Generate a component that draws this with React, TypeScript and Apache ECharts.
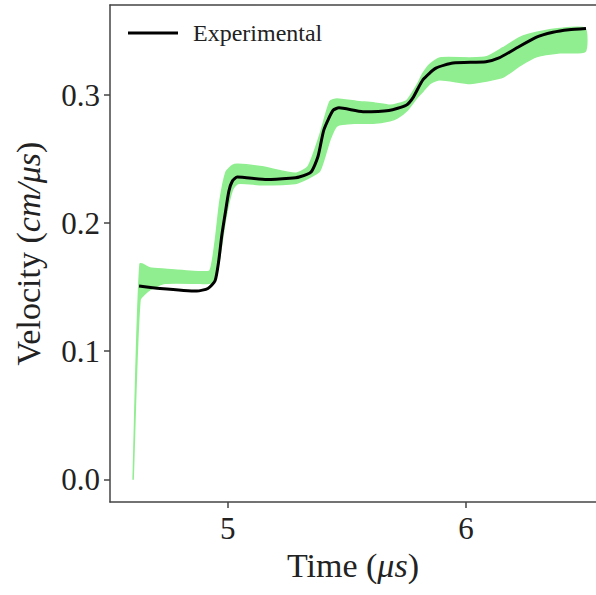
import React, { useEffect, useRef } from "react";
import * as echarts from "echarts";

// Experimental mean velocity (black line)
const lineTime = [4.628, 4.716, 4.870, 4.917, 4.947, 4.962, 4.975, 4.990, 5.005, 5.020, 5.040, 5.165, 5.261, 5.300, 5.350, 5.379, 5.404, 5.442, 5.467, 5.568, 5.677, 5.749, 5.778, 5.820, 5.874, 5.946, 6.084, 6.139, 6.197, 6.294, 6.365, 6.432, 6.504];
const lineVelocity = [0.151, 0.149, 0.147, 0.149, 0.155, 0.170, 0.190, 0.208, 0.225, 0.233, 0.236, 0.234, 0.235, 0.236, 0.240, 0.252, 0.273, 0.288, 0.290, 0.287, 0.288, 0.292, 0.298, 0.312, 0.321, 0.325, 0.326, 0.329, 0.335, 0.345, 0.349, 0.351, 0.352];

// Uncertainty band (green)
const bandTime = [4.603, 4.632, 4.674, 4.737, 4.884, 4.926, 4.947, 4.968, 4.993, 5.020, 5.043, 5.144, 5.283, 5.337, 5.387, 5.429, 5.459, 5.542, 5.610, 5.681, 5.711, 5.753, 5.795, 5.820, 5.849, 5.891, 6.017, 6.088, 6.156, 6.227, 6.298, 6.395, 6.500];
const bandLower = [0, 0.140, 0.148, 0.153, 0.153, 0.153, 0.155, 0.175, 0.205, 0.226, 0.231, 0.230, 0.231, 0.235, 0.241, 0.265, 0.276, 0.278, 0.278, 0.280, 0.282, 0.288, 0.298, 0.303, 0.309, 0.312, 0.309, 0.311, 0.314, 0.323, 0.330, 0.333, 0.334];
const bandUpper = [0, 0.168, 0.165, 0.164, 0.162, 0.163, 0.185, 0.218, 0.240, 0.245, 0.246, 0.244, 0.239, 0.244, 0.269, 0.295, 0.297, 0.295, 0.294, 0.292, 0.293, 0.296, 0.308, 0.317, 0.324, 0.329, 0.329, 0.330, 0.337, 0.345, 0.349, 0.352, 0.352];

const xTicks = [5, 6];
const yTicks = [0, 0.1, 0.2, 0.3];

const FONT = "'Liberation Serif', 'DejaVu Serif', serif";
const TEXT = "#222";

export default function App() {
  const ref = useRef<HTMLDivElement>(null);
  useEffect(() => {
    if (!ref.current) return;
    document.body.style.margin = "0";
    const chart = echarts.init(ref.current, undefined, { renderer: "svg" });
    const axisColor = "#444";
    const italicRich = (size: number) => ({
      i: { fontFamily: FONT, fontSize: size, fontStyle: "italic", color: TEXT },
    });
    chart.setOption({
      animation: false,
      backgroundColor: "#fff",
      legend: {
        left: 123,
        top: 16,
        itemWidth: 50,
        itemHeight: 3,
        data: [{ name: "Experimental", icon: "rect" }],
        textStyle: { fontFamily: FONT, fontSize: 24, color: TEXT, padding: [0, 0, 0, 10] },
      },
      grid: { left: 110, top: 5, right: 0, bottom: 93 },
      xAxis: [
        {
          type: "value",
          min: 4.506,
          max: 6.546,
          name: "Time ({i|μs})",
          nameLocation: "middle",
          nameGap: 46,
          nameTextStyle: { fontFamily: FONT, fontSize: 34, color: TEXT, rich: italicRich(34) },
          axisLine: { show: true, onZero: false, lineStyle: { color: axisColor, width: 1.5 } },
          axisTick: { show: true, length: 6, customValues: xTicks, lineStyle: { color: axisColor, width: 1.5 } },
          axisLabel: {
            customValues: xTicks,
            margin: 11,
            fontFamily: FONT,
            fontSize: 31,
            color: TEXT,
            formatter: (v: number) => String(v),
          },
          splitLine: { show: false },
        },
        {
          type: "value",
          position: "top",
          min: 4.506,
          max: 6.546,
          axisLine: { show: true, onZero: false, lineStyle: { color: axisColor, width: 1.5 } },
          axisTick: { show: false },
          axisLabel: { show: false },
          splitLine: { show: false },
        },
      ],
      yAxis: {
        type: "value",
        min: -0.0177,
        max: 0.3703,
        name: "Velocity ({i|cm/μs})",
        nameLocation: "middle",
        nameGap: 65,
        nameTextStyle: { fontFamily: FONT, fontSize: 34, color: TEXT, rich: italicRich(34) },
        axisLine: { show: true, onZero: false, lineStyle: { color: axisColor, width: 1.5 } },
        axisTick: { show: true, length: 6, customValues: yTicks, lineStyle: { color: axisColor, width: 1.5 } },
        axisLabel: {
          customValues: yTicks,
          margin: 10,
          fontFamily: FONT,
          fontSize: 31,
          color: TEXT,
          formatter: (v: number) => v.toFixed(1),
        },
        splitLine: { show: false },
      },
      series: [
        {
          name: "band",
          type: "custom",
          silent: true,
          z: 1,
          data: [0],
          renderItem: (_params: any, api: any) => {
            const upper = bandTime.map((t, i) => api.coord([t, bandUpper[i]]));
            const lower = bandTime.map((t, i) => api.coord([t, bandLower[i]])).reverse();
            return {
              type: "polygon",
              shape: { points: upper.concat(lower), smooth: 0.2 },
              style: { fill: "#90ee90", stroke: "#90ee90", lineWidth: 1.5, lineJoin: "round" },
            };
          },
        },
        {
          name: "Experimental",
          type: "line",
          data: lineTime.map((t, i) => [t, lineVelocity[i]]),
          symbol: "none",
          smooth: 0.2,
          itemStyle: { color: "#000" },
          lineStyle: { color: "#000", width: 3 },
          z: 3,
        },
      ],
    });
    return () => chart.dispose();
  }, []);
  return <div ref={ref} style={{ position: "absolute", left: 0, top: 0, width: 596, height: 595 }} />;
}
